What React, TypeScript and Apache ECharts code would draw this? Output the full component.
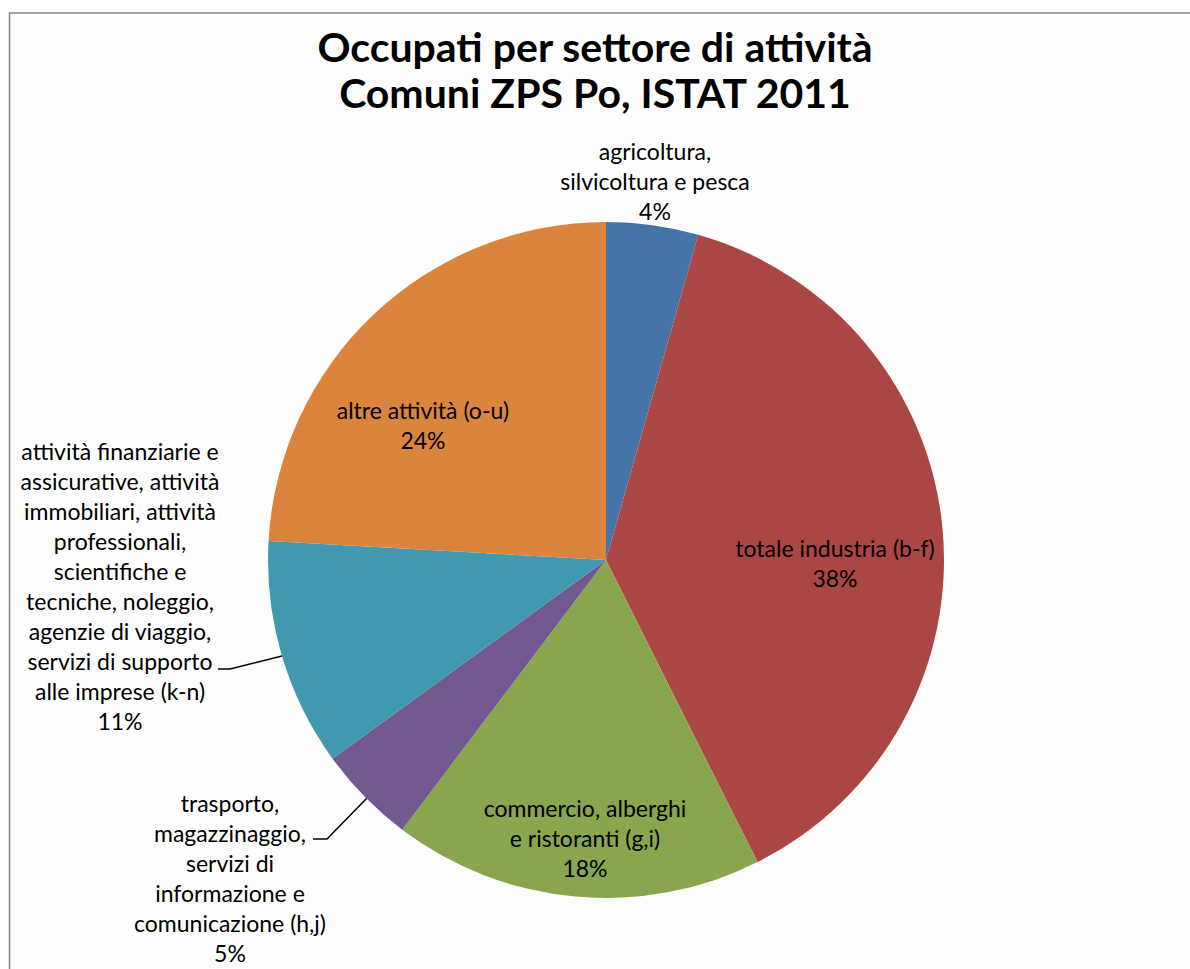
import React, { useEffect, useRef } from "react";
import * as echarts from "echarts";

const titleText = "Occupati per settore di attività\nComuni ZPS Po, ISTAT 2011";

const categories = [
  "agricoltura,\nsilvicoltura e pesca",
  "totale industria (b-f)",
  "commercio, alberghi\ne ristoranti (g,i)",
  "trasporto,\nmagazzinaggio,\nservizi di\ninformazione e\ncomunicazione (h,j)",
  "attività finanziarie e\nassicurative, attività\nimmobiliari, attività\nprofessionali,\nscientifiche e\ntecniche, noleggio,\nagenzie di viaggio,\nservizi di supporto\nalle imprese (k-n)",
  "altre attività (o-u)",
];

const values = [4.4, 38.2, 17.7, 4.7, 10.9, 24.1];

const colors = ["#4572A7", "#AA4643", "#89A54E", "#71588F", "#4198AF", "#DB843D"];

// label block centres (page pixels) and leader lines
const labelCentres: [number, number][] = [
  [655, 181],
  [835, 563],
  [585, 838],
  [230, 878],
  [120, 586],
  [423, 425],
];

const leaderLines: ([number, number][] | null)[] = [
  null,
  null,
  null,
  [[367, 798], [327, 839], [313, 839]],
  [[282, 656], [230, 669], [218, 669]],
  null,
];

export default function App() {
  const ref = useRef<HTMLDivElement>(null);
  useEffect(() => {
    if (!ref.current) return;
    const chart = echarts.init(ref.current, undefined, { renderer: "svg" });
    chart.setOption({
      animation: false,
      backgroundColor: "#ffffff",
      title: {
        text: titleText,
        left: "center",
        top: 18,
        textStyle: {
          fontFamily: "Lato",
          fontWeight: "bold",
          fontSize: 41,
          lineHeight: 46,
          color: "#000",
        },
      },
      graphic: [
        {
          type: "rect",
          z: -10,
          silent: true,
          shape: { x: 9.5, y: 13, width: 2000, height: 2000 },
          style: { fill: "#fdfdfd", stroke: "#868686", lineWidth: 1.5 },
        },
      ],
      series: [
        {
          type: "pie",
          center: [606, 560],
          radius: 338,
          startAngle: 90,
          clockwise: true,
          avoidLabelOverlap: false,
          label: {
            show: true,
            position: "outside",
            fontFamily: "Lato",
            fontSize: 23,
            lineHeight: 30,
            color: "#000",
            align: "center",
            formatter: (p: any) => `${p.name}\n${Math.round(p.value)}%`,
          },
          labelLine: { show: false, lineStyle: { color: "#000", width: 1.5 } },
          labelLayout: (params: any) => {
            const i = params.dataIndex;
            const res: any = {
              x: labelCentres[i][0],
              y: labelCentres[i][1],
              align: "center",
              verticalAlign: "middle",
            };
            if (leaderLines[i]) res.labelLinePoints = leaderLines[i];
            return res;
          },
          itemStyle: { borderWidth: 0 },
          data: categories.map((name, i) => ({
            name,
            value: values[i],
            itemStyle: { color: colors[i] },
            labelLine: { show: !!leaderLines[i] },
          })),
        },
      ],
    });
    return () => chart.dispose();
  }, []);
  return (
    <div
      ref={ref}
      style={{ position: "fixed", left: 0, top: 0, width: 1190, height: 969 }}
    />
  );
}
